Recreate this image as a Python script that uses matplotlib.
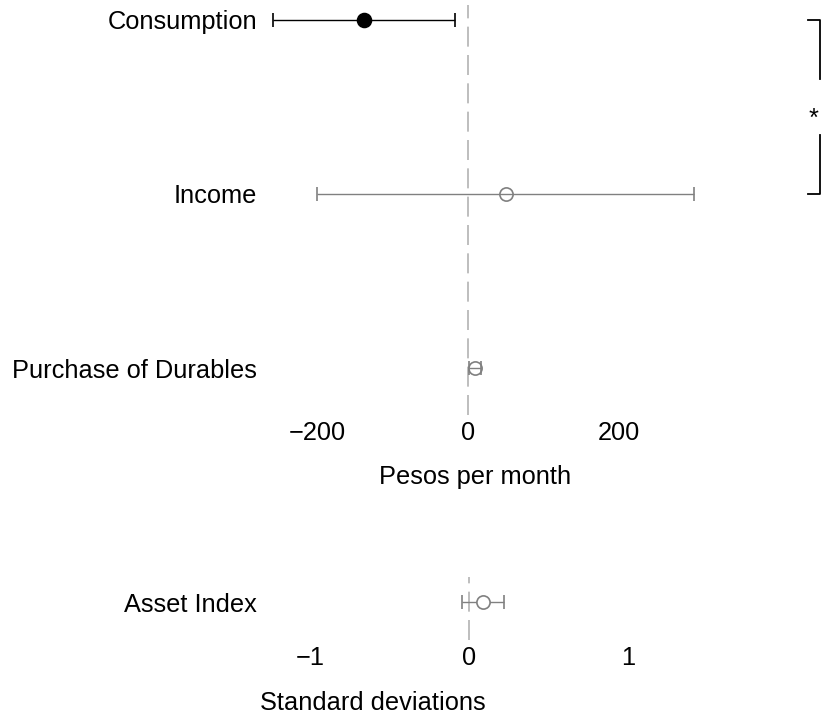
import numpy as np
import matplotlib
matplotlib.use('Agg')
from matplotlib import pyplot as plt

plt.rcParams['font.family'] = ['Liberation Sans', 'DejaVu Sans']

# pesos per month outcomes
cats = ['Consumption', 'Income', 'Purchase of Durables']
est = [-137, 50, 9]
lo = [-258, -200, 1]
hi = [-17, 299, 17]
colors = ['black', '#808080', '#808080']
filled = [True, False, False]

# asset index (standard deviations)
asset_cat = ['Asset Index']
asset_est = [0.088]
asset_lo = [-0.044]
asset_hi = [0.22]

FS = 18.3
W, H = 822, 717
fig = plt.figure(figsize=(W / 100, H / 100), dpi=100)

left, right = 267, 760
ax1 = fig.add_axes([left / W, 1 - 415 / H, (right - left) / W, 410 / H])
ax2 = fig.add_axes([left / W, 1 - 640 / H, (right - left) / W, 63 / H])

ypos = [3, 2, 1]
ax1.axvline(0, color='#b3b3b3', lw=1.2, dashes=(12, 5), zorder=0)
for y, m, l, h, c, f in zip(ypos, est, lo, hi, colors, filled):
    ax1.errorbar([m], [y], xerr=[[m - l], [h - m]], fmt='o', color=c,
                 ecolor=c, elinewidth=1.0, capsize=5, capthick=1.0,
                 markersize=10 if f else 9.5,
                 markerfacecolor=c if f else 'none',
                 markeredgecolor=c, markeredgewidth=1.2)
ax1.set_xlim(-266, 387)
ax1.set_ylim(0.73, 3.086)
ax1.set_yticks(ypos)
ax1.set_yticklabels(cats)
ax1.set_xticks([-200, 0, 200])

# significance bracket
bx, tick = 467, 17
ax1.plot([bx - tick, bx, bx], [3, 3, 2.66], color='black', lw=1.3, clip_on=False)
ax1.plot([bx, bx, bx - tick], [2.34, 2, 2], color='black', lw=1.3, clip_on=False)
ax1.text(bx - 9, 2.43, '*', fontsize=FS, ha='center', va='center', clip_on=False)

ax2.axvline(0, color='#b3b3b3', lw=1.2, dashes=(12, 5), zorder=0)
ax2.errorbar(asset_est, [1], xerr=[[asset_est[0] - asset_lo[0]], [asset_hi[0] - asset_est[0]]],
             fmt='o', color='#808080', elinewidth=1.0, capsize=5, capthick=1.0,
             markersize=9.5, markerfacecolor='white', markeredgecolor='#808080',
             markeredgewidth=1.2)
ax2.set_xlim(-1.27, 1.83)
ax2.set_ylim(0.62, 1.25)
ax2.set_yticks([1])
ax2.set_yticklabels(asset_cat)
ax2.set_xticks([-1, 0, 1])

for ax in (ax1, ax2):
    for s in ax.spines.values():
        s.set_visible(False)
    ax.tick_params(axis='both', length=0, labelsize=FS)
    ax.tick_params(axis='x', pad=4.5)
    ax.tick_params(axis='y', pad=7)
    ax.patch.set_alpha(0)

fig.text(475 / W, 1 - 477 / H, 'Pesos per month', fontsize=FS, ha='center', va='center')
fig.text(373 / W, 1 - 703 / H, 'Standard deviations', fontsize=FS, ha='center', va='center')

plt.savefig('out.png', dpi=100)
